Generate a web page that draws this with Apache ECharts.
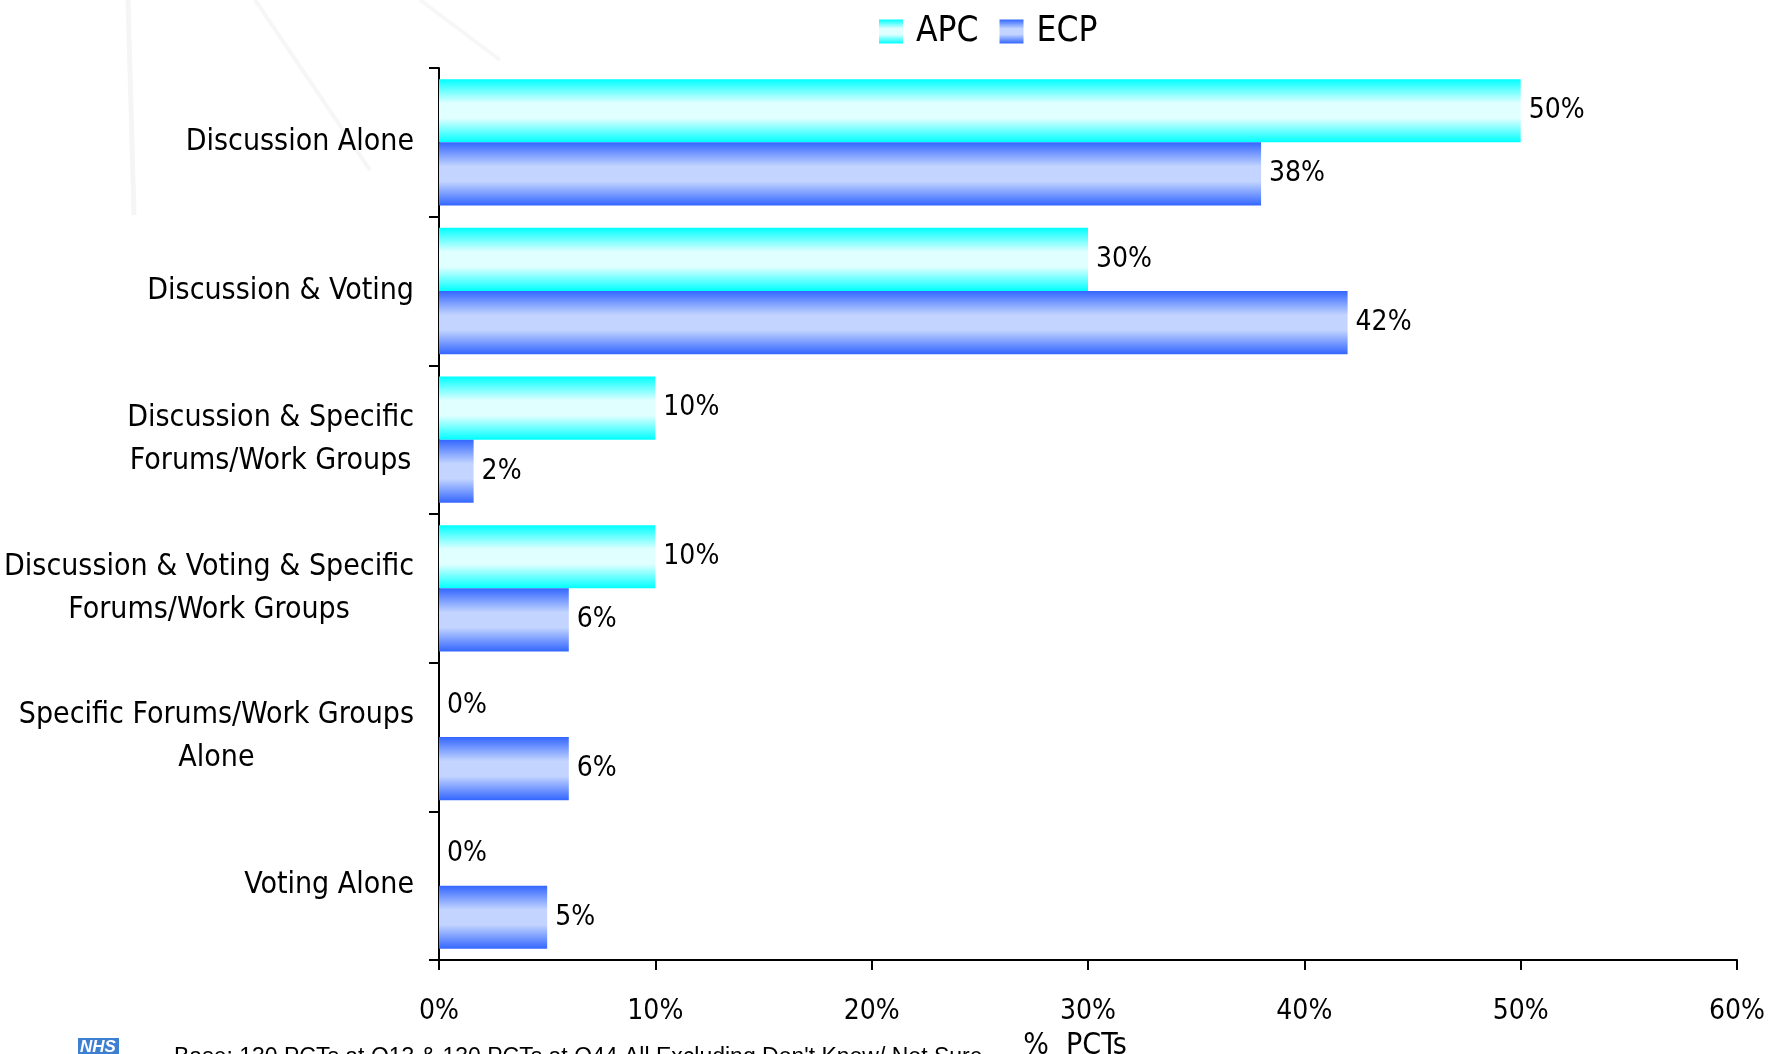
<!DOCTYPE html>
<html>
<head>
<meta charset="utf-8">
<script src="https://cdn.jsdelivr.net/npm/echarts@6/dist/echarts.min.js"></script>
<style>
html,body{margin:0;padding:0;background:#fff;}
#chart{width:1769px;height:1054px;}
</style>
</head>
<body>
<div id="chart"></div>
<script>
var categories = [
  'Discussion Alone',
  'Discussion & Voting',
  'Discussion & Specific\nForums/Work Groups',
  'Discussion & Voting & Specific\nForums/Work Groups',
  'Specific Forums/Work Groups\nAlone',
  'Voting Alone'
];
var seriesNames = ['APC', 'ECP'];
var apcValues = [50, 30, 10, 10, 0, 0];
var ecpValues = [38, 42, 1.6, 6, 6, 5];
var xTicks = [0, 10, 20, 30, 40, 50, 60];
var footnote = 'Base: 130 PCTs at Q13 & 130 PCTs at Q44 All Excluding Don\'t Know/ Not Sure';

var FONT = '"Liberation Sans Narrow", "DejaVu Sans Condensed", "Arial Narrow", sans-serif';

var chart = echarts.init(document.getElementById('chart'));

function grad(edge, mid) {
  return new echarts.graphic.LinearGradient(0, 0, 0, 1, [
    {offset: 0, color: edge},
    {offset: 0.38, color: mid},
    {offset: 0.62, color: mid},
    {offset: 1, color: edge}
  ]);
}

var labelStyle = {
  show: true,
  position: 'right',
  distance: 8,
  color: '#000',
  fontFamily: FONT,
  fontSize: 28,
  fontWeight: 500,
  formatter: function (p) { return Math.round(p.value) + '%'; }
};

chart.setOption({
  backgroundColor: '#ffffff',
  animation: false,
  legend: {
    data: seriesNames,
    left: 874,
    top: 9,
    icon: 'rect',
    itemWidth: 24,
    itemHeight: 24,
    itemGap: 21,
    textStyle: {fontFamily: FONT, fontSize: 35, color: '#000', padding: [0, 0, 0, 8]}
  },
  grid: {left: 439, right: 32, top: 68, bottom: 94, containLabel: false, outerBoundsMode: 'none'},
  xAxis: {
    type: 'value',
    min: xTicks[0],
    max: xTicks[xTicks.length - 1],
    interval: xTicks[1] - xTicks[0],
    name: '%  PCTs',
    nameLocation: 'middle',
    nameGap: 61,
    nameTextStyle: {fontFamily: FONT, fontSize: 30, color: '#000', padding: [0, 26, 0, 0]},
    axisLine: {show: true, lineStyle: {color: '#000', width: 2}},
    axisTick: {show: true, length: 10, lineStyle: {color: '#000', width: 2}},
    axisLabel: {margin: 38, fontFamily: FONT, fontSize: 28, color: '#000', formatter: '{value}%'},
    splitLine: {show: false}
  },
  yAxis: {
    type: 'category',
    data: categories,
    inverse: true,
    axisLine: {show: true, lineStyle: {color: '#000', width: 2}},
    axisTick: {show: true, length: 10, lineStyle: {color: '#000', width: 2}},
    axisLabel: {
      margin: 25,
      fontFamily: FONT,
      fontSize: 30,
      color: '#000',
      lineHeight: 43,
      formatter: function (v) {
        return v.split('\n').map(function (l) { return '{c|' + l + '}'; }).join('\n');
      },
      rich: {c: {align: 'center', fontFamily: FONT, fontSize: 30, color: '#000', lineHeight: 43}}
    }
  },
  series: [
    {
      name: seriesNames[0],
      type: 'bar',
      data: apcValues,
      barGap: '0%',
      barCategoryGap: '15%',
      itemStyle: {color: grad('#00ffff', '#e0ffff')},
      label: labelStyle
    },
    {
      name: seriesNames[1],
      type: 'bar',
      data: ecpValues,
      barGap: '0%',
      barCategoryGap: '15%',
      itemStyle: {color: grad('#3366ff', '#c2d4ff')},
      label: labelStyle
    }
  ],
  graphic: [
    {type: 'line', silent: true, z: -10, shape: {x1: 128, y1: 0, x2: 134, y2: 215}, style: {stroke: '#f5f5f5', lineWidth: 5}},
    {type: 'line', silent: true, z: -10, shape: {x1: 255, y1: 0, x2: 370, y2: 170}, style: {stroke: '#f6f6f6', lineWidth: 4}},
    {type: 'line', silent: true, z: -10, shape: {x1: 420, y1: 0, x2: 500, y2: 60}, style: {stroke: '#f7f7f7', lineWidth: 4}},
    {type: 'rect', silent: true, shape: {x: 78, y: 1038, width: 41, height: 20}, style: {fill: '#3d7fd0'}},
    {type: 'text', silent: true, x: 80, y: 1039, style: {text: 'NHS', fill: '#fff', font: 'italic bold 17px "Liberation Sans", Arial, sans-serif'}},
    {type: 'text', silent: true, x: 174, y: 1046, style: {text: footnote, fill: '#000', font: '23px "Liberation Sans", Arial, sans-serif'}}
  ]
});
</script>
</body>
</html>
